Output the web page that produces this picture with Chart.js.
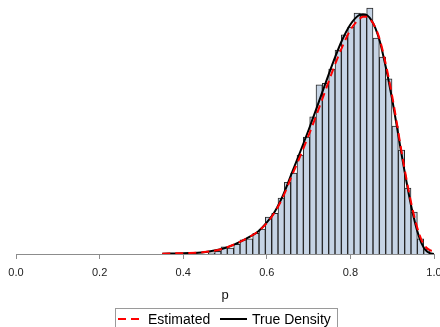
<!DOCTYPE html>
<html>
<head>
<meta charset="utf-8">
<script src="https://cdn.jsdelivr.net/npm/chart.js@4.4.1/dist/chart.umd.min.js"></script>
<style>
  html, body { margin: 0; padding: 0; background: #fff; }
  canvas { display: block; }
</style>
</head>
<body>
<canvas id="histChart" width="440" height="327"></canvas>
<script>
// Histogram bins (mid points) and densities
const binMids = [0.4677, 0.4829, 0.4980, 0.5132, 0.5284, 0.5435, 0.5587, 0.5738, 0.5890, 0.6041,
                 0.6193, 0.6344, 0.6496, 0.6647, 0.6799, 0.6950, 0.7102, 0.7253, 0.7405, 0.7556,
                 0.7708, 0.7859, 0.8011, 0.8162, 0.8314, 0.8465, 0.8617, 0.8768, 0.8920, 0.9071,
                 0.9223, 0.9374, 0.9526, 0.9677, 0.9829];
const binDensity = [0.02, 0.05, 0.13, 0.11, 0.18, 0.26, 0.28, 0.38, 0.46, 0.68,
                    0.75, 1.03, 1.32, 1.49, 1.82, 2.15, 2.52, 3.11, 3.14, 3.40,
                    3.75, 4.03, 4.17, 4.43, 4.39, 4.52, 3.97, 3.62, 3.22, 2.35,
                    1.91, 1.21, 0.77, 0.28, 0.09];

// Density curves
const curveP = [0.35, 0.40, 0.45, 0.50, 0.55, 0.58, 0.60, 0.62, 0.64, 0.66, 0.68, 0.70, 0.72,
                0.74, 0.76, 0.78, 0.80, 0.82, 0.83, 0.84, 0.85, 0.86, 0.87, 0.88, 0.89, 0.90,
                0.91, 0.92, 0.93, 0.94, 0.95, 0.96, 0.97, 0.98, 0.99, 1.00];
const trueDensity = [0.004, 0.014, 0.033, 0.11, 0.28, 0.42, 0.58, 0.79, 1.10, 1.49, 1.88, 2.28, 2.70,
                     3.13, 3.55, 3.93, 4.22, 4.39, 4.41, 4.39, 4.30, 4.15, 3.92, 3.60, 3.24, 2.84,
                     2.40, 1.94, 1.50, 1.09, 0.72, 0.42, 0.20, 0.07, 0.015, 0];
const estDensity = [0.006, 0.016, 0.035, 0.11, 0.28, 0.42, 0.57, 0.78, 1.07, 1.44, 1.80, 2.18, 2.58,
                    3.00, 3.42, 3.80, 4.12, 4.31, 4.36, 4.36, 4.29, 4.16, 3.95, 3.65, 3.30, 2.90,
                    2.46, 1.99, 1.55, 1.14, 0.78, 0.48, 0.26, 0.13, 0.07, 0.05];

const xTicks = [0, 0.2, 0.4, 0.6, 0.8, 1.0];
const legendLabels = ['Estimated', 'True Density'];

const FONT = '"Liberation Sans", Arial, sans-serif';

// Boxed legend below the axis title
const boxedLegend = {
    id: 'boxedLegend',
    afterDraw(chart) {
        const ctx = chart.ctx;
        ctx.save();
        ctx.strokeStyle = '#9a9a9a';
        ctx.lineWidth = 1;
        ctx.strokeRect(115.5, 308.5, 222, 30);

        ctx.lineWidth = 2;
        ctx.strokeStyle = '#ff0000';
        ctx.setLineDash([8, 5]);
        ctx.beginPath();
        ctx.moveTo(118, 319);
        ctx.lineTo(140, 319);
        ctx.stroke();

        ctx.setLineDash([]);
        ctx.strokeStyle = '#000';
        ctx.beginPath();
        ctx.moveTo(220, 319);
        ctx.lineTo(247, 319);
        ctx.stroke();

        ctx.fillStyle = '#000';
        ctx.font = '14px ' + FONT;
        ctx.textBaseline = 'alphabetic';
        ctx.textAlign = 'left';
        ctx.fillText(legendLabels[0], 148, 324);
        ctx.fillText(legendLabels[1], 252, 324);
        ctx.restore();
    }
};

const ctx = document.getElementById('histChart').getContext('2d');
const histChart = new Chart(ctx, {
    data: {
        datasets: [
            {
                type: 'line',
                label: legendLabels[0],
                data: curveP.map((p, i) => ({ x: p, y: estDensity[i] })),
                borderColor: '#ff0000',
                borderWidth: 2,
                borderDash: [8, 5],
                pointRadius: 0,
                cubicInterpolationMode: 'monotone',
                fill: false
            },
            {
                type: 'line',
                label: legendLabels[1],
                data: curveP.map((p, i) => ({ x: p, y: trueDensity[i] })),
                borderColor: '#000000',
                borderWidth: 2,
                pointRadius: 0,
                cubicInterpolationMode: 'monotone',
                fill: false
            },
            {
                type: 'bar',
                label: 'Histogram',
                data: binMids.map((m, i) => ({ x: m, y: binDensity[i] })),
                backgroundColor: '#c6d4e5',
                borderColor: '#262626',
                borderWidth: 1,
                borderSkipped: 'start',
                barPercentage: 1,
                categoryPercentage: 1,
                grouped: false
            }
        ]
    },
    options: {
        responsive: false,
        animation: false,
        layout: {
            autoPadding: false,
            padding: { left: 16, right: 6, top: 0, bottom: 0 }
        },
        plugins: {
            legend: { display: false },
            tooltip: { enabled: false }
        },
        scales: {
            x: {
                type: 'linear',
                min: 0,
                max: 1,
                offset: false,
                afterBuildTicks: (scale) => {
                    scale.ticks = xTicks.map(v => ({ value: v }));
                },
                afterFit: (scale) => {
                    scale.paddingLeft = 0;
                    scale.paddingRight = 0;
                    scale.height = 73;
                },
                grid: {
                    display: true,
                    offset: false,
                    drawOnChartArea: false,
                    drawTicks: true,
                    tickLength: 5,
                    color: '#8c8c8c'
                },
                border: { display: true, color: '#8c8c8c', width: 1 },
                ticks: {
                    padding: 7,
                    maxRotation: 0,
                    color: '#222',
                    font: { family: FONT, size: 11 },
                    callback: (v) => Number(v).toFixed(1)
                },
                title: {
                    display: true,
                    text: 'p',
                    color: '#111',
                    font: { family: FONT, size: 13 },
                    padding: { top: 0, bottom: 24 }
                }
            },
            y: {
                display: false,
                min: 0,
                max: 4.67
            }
        }
    },
    plugins: [boxedLegend]
});
</script>
</body>
</html>
